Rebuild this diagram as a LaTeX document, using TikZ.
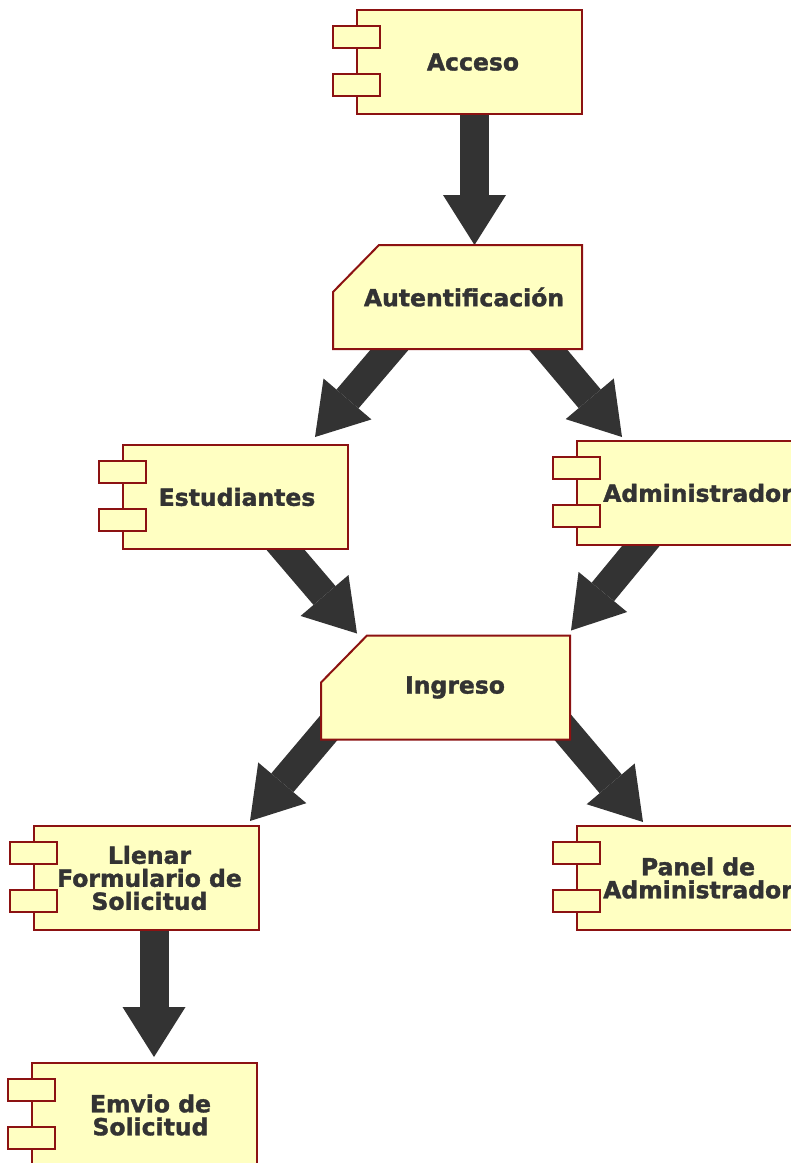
\documentclass[tikz,border=0pt]{standalone}
\usepackage{fontspec}
\setmainfont{DejaVu Sans}[BoldFeatures={FakeBold=1.5}]
\usetikzlibrary{arrows.meta,calc}
\definecolor{boxfill}{RGB}{255,255,194}
\definecolor{boxline}{RGB}{140,18,18}
\definecolor{ink}{RGB}{51,51,51}
\pgfdeclarelayer{arrowlayer}
\pgfdeclarelayer{shapelayer}
\pgfsetlayers{arrowlayer,shapelayer,main}
\tikzset{
  lbl/.style={font=\bfseries\fontsize{23.5}{23}\selectfont, text=ink, align=center, inner sep=0pt, outer sep=0pt},
  comp/.style={lbl, draw=boxline, fill=boxfill, line width=2pt, minimum width=225pt, minimum height=104pt},
  notchbox/.style={lbl, minimum width=249pt, minimum height=104pt},
  notchshape/.style={draw=boxline, fill=boxfill, line width=2pt, line join=miter},
  tab/.style={draw=boxline, fill=boxfill, line width=2pt},
  tshift/.style={execute at begin node={\hspace*{#1}}},
  bigarrow/.style={draw=ink, line width=29pt, -{Triangle[length=50pt,width=63pt,line width=0pt]}},
}
\begin{document}
\begin{tikzpicture}[x=1pt,y=-1pt]
\path[use as bounding box, clip] (0,0) rectangle (791,1163);
% nodes
\node[comp, tshift=7pt] (acc) at (469.5,62) {Acceso};
\node[notchbox, tshift=13pt] (aut) at (457.5,297) {Autentificación};
\node[comp, tshift=3pt] (est) at (235.5,497) {Estudiantes};
\node[comp, tshift=17pt] (adm) at (689.5,493) {Administrador};
\node[notchbox, tshift=19pt] (ing) at (445.5,687.5) {Ingreso};
\node[comp] (lle) at (146.5,878) {\hspace*{6pt}Llenar\\\hspace*{6pt}Formulario de\\\hspace*{6pt}Solicitud};
\node[comp] (pan) at (689.5,878) {\hspace*{17pt}Panel de\\\hspace*{17pt}Administrador};
\node[comp] (emv) at (144.5,1115) {\hspace*{12pt}Emvio de\\\hspace*{12pt}Solicitud};
% component tabs
\foreach \n in {acc,est,adm,lle,pan,emv}{
  \draw[tab] ($(\n.north west)+(-24,16)$) rectangle ++(47,22);
  \draw[tab] ($(\n.north west)+(-24,64)$) rectangle ++(47,22);
}
% notched shapes
\begin{pgfonlayer}{shapelayer}
\foreach \n in {aut,ing}{
  \draw[notchshape] ($(\n.north west)+(46,0)$) -- (\n.north east) -- (\n.south east) -- (\n.south west) -- ($(\n.north west)+(0,47)$) -- cycle;
}
\end{pgfonlayer}
% connectors
\begin{pgfonlayer}{arrowlayer}
\draw[bigarrow] ($(acc.south)+(5,-10)$) -- ($(aut.north)+(17,0)$);
\draw[bigarrow] ($(aut.south)+(-54.5,-15)$) -- ($(est.north)+(79.5,-8)$);
\draw[bigarrow] ($(aut.south)+(77.5,-15)$) -- ($(adm.north)+(-67.5,-4)$);
\draw[bigarrow] ($(est.south)+(36.5,-15)$) -- ($(ing.north)+(-88.5,-2)$);
\draw[bigarrow] ($(adm.south)+(-35.5,-15)$) -- ($(ing.north east)+(1,-5)$);
\draw[bigarrow] ($(ing.south west)+(14,-19)$) -- ($(lle.north)+(103.5,-5)$);
\draw[bigarrow] ($(ing.south east)+(-13,-19)$) -- ($(pan.north)+(-46.5,-4)$);
\draw[bigarrow] ($(lle.south)+(7.5,-10)$) -- ($(emv.north)+(9.5,-6)$);
\end{pgfonlayer}
\end{tikzpicture}
\end{document}
